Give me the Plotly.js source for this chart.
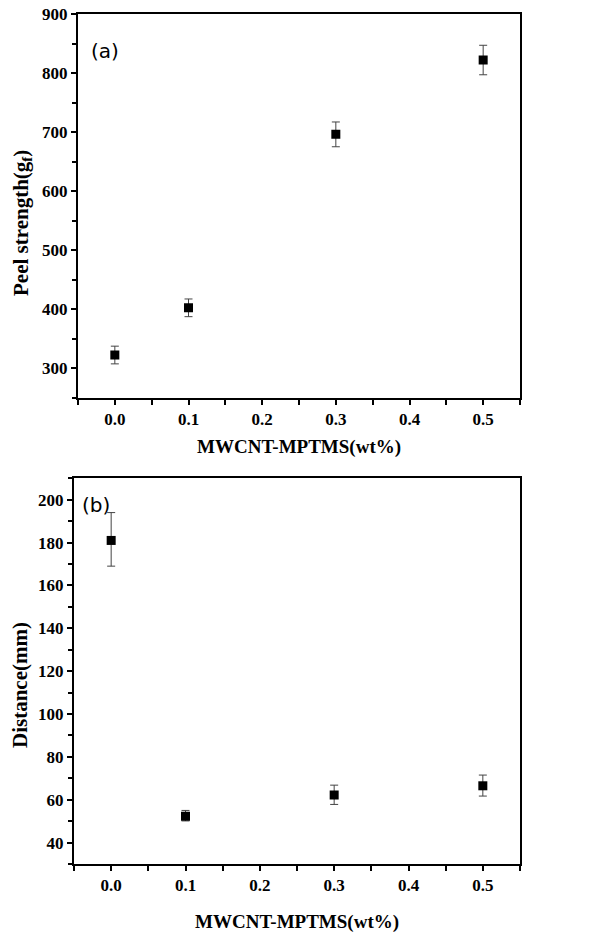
<!DOCTYPE html>
<html>
<head>
<meta charset="utf-8">
<script src="https://cdn.plot.ly/plotly-3.0.1.min.js"></script>
<style>
html,body{margin:0;padding:0;background:#fff;}
#chart{width:602px;height:935px;}
</style>
</head>
<body>
<div id="chart"></div>
<script>
// Data
const loading = [0.0, 0.1, 0.3, 0.5];
const peelStrength = [322, 402, 696, 822];
const peelErr = [15, 15, 21, 25];
const distance = [181, 52.3, 62.2, 66.5];
const distErrPlus = [13, 2.7, 4.6, 5];
const distErrMinus = [12, 2.2, 4.4, 4.8];
const xTickVals = [0.0, 0.1, 0.2, 0.3, 0.4, 0.5];
const xTickText = ['0.0', '0.1', '0.2', '0.3', '0.4', '0.5'];
const yTickValsA = [300, 400, 500, 600, 700, 800, 900];
const yTickTextA = ['300', '400', '500', '600', '700', '800', '900'];
const yTickValsB = [40, 60, 80, 100, 120, 140, 160, 180, 200];
const yTickTextB = ['40', '60', '80', '100', '120', '140', '160', '180', '200'];
const xTitle = 'MWCNT-MPTMS(wt%)';
const yTitleA = 'Peel strength(g<sub>f</sub>)';
const yTitleB = 'Distance(mm)';

const W = 602, H = 935;
const serif = 'Liberation Serif';
function tf() { return {family: serif, size: 17, color: '#000'}; }
const bold = t => '<b>' + t + '</b>';

const traces = [
  {x: loading, y: peelStrength, xaxis: 'x', yaxis: 'y', mode: 'markers', type: 'scatter',
   marker: {symbol: 'square', size: 9, color: '#000'},
   error_y: {type: 'data', array: peelErr, visible: true, color: '#444', thickness: 1, width: 4},
   showlegend: false, hoverinfo: 'skip'},
  {x: loading, y: distance, xaxis: 'x2', yaxis: 'y2', mode: 'markers', type: 'scatter',
   marker: {symbol: 'square', size: 9, color: '#000'},
   error_y: {type: 'data', array: distErrPlus, arrayminus: distErrMinus, visible: true, color: '#444', thickness: 1, width: 4},
   showlegend: false, hoverinfo: 'skip'}
];

function xAxis(dom, anchor) {
  return {domain: dom, anchor: anchor, range: [-0.05, 0.55], tickmode: 'array',
    tickvals: xTickVals, ticktext: xTickText.map(bold),
    ticks: 'outside', ticklen: 5, tickwidth: 1.5, tickcolor: '#000',
    minor: {dtick: 0.05, tick0: 0, ticks: 'outside', ticklen: 5, tickwidth: 1.5, tickcolor: '#000'},
    showline: true, linewidth: 2, linecolor: '#000', mirror: true, showgrid: false, zeroline: false,
    tickfont: tf()};
}
function yAxis(dom, anchor, range, vals, text, minorDtick) {
  return {domain: dom, anchor: anchor, range: range, tickmode: 'array',
    tickvals: vals, ticktext: text.map(bold),
    ticks: 'outside', ticklen: 5, tickwidth: 1.5, tickcolor: '#000',
    minor: {dtick: minorDtick, tick0: 0, ticks: 'outside', ticklen: 4, tickwidth: 1.5, tickcolor: '#000'},
    showline: true, linewidth: 2, linecolor: '#000', mirror: true, showgrid: false, zeroline: false,
    tickfont: tf()};
}

const layout = {
  width: W, height: H,
  margin: {l: 0, r: 0, t: 0, b: 0},
  font: {family: serif, size: 17, color: '#000'},
  paper_bgcolor: '#fff', plot_bgcolor: '#fff',
  xaxis: xAxis([78 / W, 520 / W], 'y'),
  yaxis: yAxis([1 - 397.5 / H, 1 - 14 / H], 'x', [250, 900], yTickValsA, yTickTextA, 50),
  xaxis2: xAxis([74 / W, 520 / W], 'y2'),
  yaxis2: yAxis([1 - 864 / H, 1 - 478.3 / H], 'x2', [30, 210], yTickValsB, yTickTextB, 10),
  annotations: [
    {text: bold(xTitle), xref: 'paper', yref: 'paper', x: 299 / W, y: 1 - 446.5 / H, showarrow: false,
     xanchor: 'center', yanchor: 'middle', font: {family: serif, size: 19, color: '#000'}},
    {text: bold(xTitle), xref: 'paper', yref: 'paper', x: 297 / W, y: 1 - 921.5 / H, showarrow: false,
     xanchor: 'center', yanchor: 'middle', font: {family: serif, size: 19, color: '#000'}},
    {text: bold(yTitleA), xref: 'paper', yref: 'paper', x: 22 / W, y: 1 - 223 / H, textangle: -90, showarrow: false,
     xanchor: 'center', yanchor: 'middle', font: {family: serif, size: 21, color: '#000'}},
    {text: bold(yTitleB), xref: 'paper', yref: 'paper', x: 20 / W, y: 1 - 685 / H, textangle: -90, showarrow: false,
     xanchor: 'center', yanchor: 'middle', font: {family: serif, size: 21, color: '#000'}},
    {text: '(a)', xref: 'paper', yref: 'paper', x: 105 / W, y: 1 - 51 / H, showarrow: false,
     xanchor: 'center', yanchor: 'middle', font: {family: 'DejaVu Sans', size: 20, color: '#000'}},
    {text: '(b)', xref: 'paper', yref: 'paper', x: 96 / W, y: 1 - 505 / H, showarrow: false,
     xanchor: 'center', yanchor: 'middle', font: {family: 'DejaVu Sans', size: 20, color: '#000'}}
  ]
};

Plotly.newPlot('chart', traces, layout, {displayModeBar: false});
</script>
</body>
</html>
